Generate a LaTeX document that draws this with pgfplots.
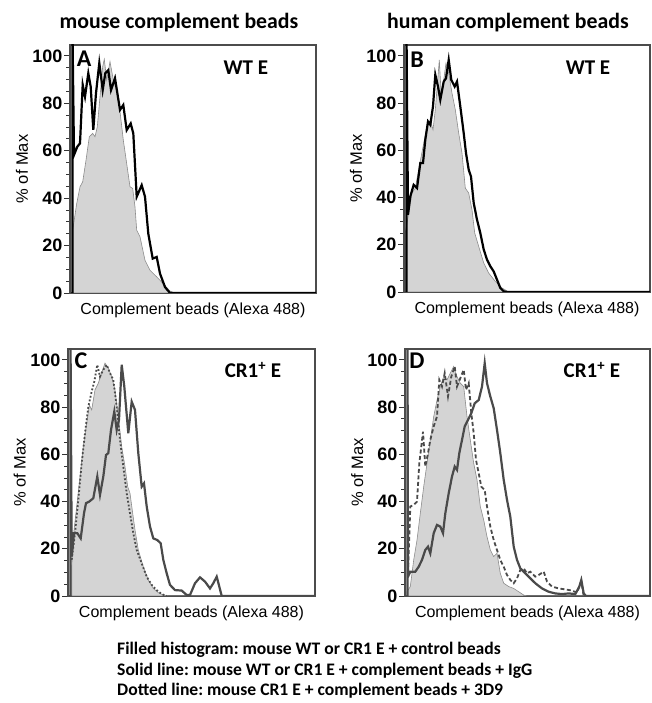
\documentclass[border=0pt]{standalone}
\usepackage{pgfplots}
\pgfplotsset{compat=1.18}
\usepackage{fontspec}
\setmainfont{Carlito}
\newfontfamily\arial{Liberation Sans}
\frenchspacing

\definecolor{fillgray}{HTML}{D4D4D4}
\definecolor{edgegray}{HTML}{8C8C8C}
\definecolor{darkline}{HTML}{4A4A4A}

\pgfplotsset{
  histo/.style={
    scale only axis,
    anchor=south west,
    ymin=0, ymax=104.6,
    ytick={0,20,40,60,80,100},
    minor y tick num=3,
    xtick=\empty,
    ytick pos=left,
    tick align=outside,
    major tick length=6pt,
    minor tick length=4pt,
    every tick/.style={line width=0.8pt, black!80},
    axis line style={draw=black!70, line width=1.2pt},
    /pgf/number format/assume math mode=true,
    yticklabel style={font=\arial\bfseries\fontsize{18}{18}\selectfont, xshift=2pt},
    ylabel={\% of Max},
    ylabel style={font=\arial\fontsize{16.5}{16.5}\selectfont, at={(axis description cs:-0.195,0.5)}, anchor=center},
    xlabel={Complement beads (Alexa 488)},
    xlabel style={font=\arial\fontsize{16}{16}\selectfont, at={(axis description cs:0.5,-0.069)}, anchor=center},
    clip=true,
  },
  ctrl/.style={fill=fillgray, draw=edgegray, line width=0.6pt},
}
\tikzset{
  letter/.style={font=\bfseries\fontsize{24}{24}\selectfont},
  tag/.style={font=\bfseries\fontsize{21}{21}\selectfont},
}

\begin{document}
\begin{tikzpicture}[x=1pt,y=1pt]
\path[use as bounding box] (0,0) rectangle (652,703);

% ---------- A ----------
\begin{axis}[histo, at={(70pt,410pt)}, width=246pt, height=248pt, xmin=0, xmax=246]
\addplot[ctrl] coordinates {
 (2.7,26.5) (6.7,37.7) (10,44.8) (12.7,46.9) (16,56) (19.3,65.9) (22.7,67.3)
 (25,65.9) (27.3,70.1) (30,82.8) (32.7,95.5) (34.3,98.6) (36.7,89.9) (40,97.6)
 (43.3,89.9) (48.3,82.8) (53.3,64.5) (56.7,54.6) (60,44.8) (62.7,44.1) (65,36.3)
 (66.7,26.5) (70,23.7) (75,13.8) (80,9.6) (86.7,6.8) (93.3,3.9) (100,0.8) (105,0)
 (246,0)} \closedcycle;
\addplot[black, line width=2.2pt] coordinates {
 (2.5,0) (2.5,110) (4,58.2) (7.3,61.7) (10,63.1) (12.7,87.8) (15,82.8) (18.3,92.7)
 (20.7,87) (23.3,68.8) (26,84.3) (29.3,97) (32.7,85.6) (35.3,92.7) (38.3,94)
 (41,85.6) (45,90.6) (50,77.2) (53.3,79.3) (56.7,68.7) (60.7,71.5) (63.3,67.3)
 (66.7,40.6) (71.7,45.5) (75,40.6) (78.3,25) (82.7,14.5) (86.7,15.2) (90,8.2)
 (95,2.5) (100,0) (246,0)};
\node[letter] at (axis description cs:0.057,0.944) {A};
\node[tag] at (axis description cs:0.715,0.907) {WT E};
\end{axis}

% ---------- B ----------
\begin{axis}[histo, at={(404pt,411pt)}, width=246pt, height=247pt, xmin=0, xmax=246]
\addplot[ctrl] coordinates {
 (1.3,25) (4.7,33.4) (8,41.9) (11.3,44) (15.3,53.2) (19.7,63) (23,70.1) (26.3,72.9)
 (29,68.7) (31.3,77.2) (34,91.3) (35.3,98.3) (37.3,82.8) (39.7,89.8) (42,96.9)
 (44.7,92.7) (48,84.2) (51.3,77.2) (54.7,67.3) (58,58.8) (61.3,44) (64.7,41.9)
 (68,34.8) (70.7,25) (74.7,19.3) (79.7,12.3) (84.7,8) (91.3,4.5) (98,1.7)
 (104.7,0) (246,0)} \closedcycle;
\addplot[black, line width=2.2pt] coordinates {
 (2.5,0) (2.5,110) (4,32.7) (6.3,40.5) (9.7,45.4) (13,44) (16.3,54.6) (19,54.6)
 (21.3,64.5) (24,72.2) (26.3,70.8) (29,78.6) (31.3,92) (34,87) (36.3,81.4)
 (39.7,89.1) (42,90.5) (44.7,98.3) (47.3,89.8) (50.7,87) (53,89.1) (56.3,78.6)
 (59.7,67.3) (62,58.8) (64.7,51.8) (67,48.9) (69.7,37.7) (73,30.6) (76.3,25)
 (79.7,18) (83,13.7) (86.3,10.9) (89.7,8.7) (93,5.2) (96.3,1.7) (99.7,0.3)
 (103,0) (246,0)};
\node[letter] at (axis description cs:0.053,0.94) {B};
\node[tag] at (axis description cs:0.748,0.907) {WT E};
\end{axis}

% ---------- C ----------
\begin{axis}[histo, at={(68pt,107pt)}, width=247pt, height=247pt, xmin=0, xmax=247]
\addplot[ctrl] coordinates {
 (3.7,12.4) (5.3,25.1) (8.7,37.9) (12,50.6) (15.3,63.3) (18.7,73.2) (21.3,80.9)
 (23.7,78.8) (27,87.3) (30.3,90.1) (33.7,94.4) (37,98.6) (40.3,96.5) (43.7,92.9)
 (47,87.3) (50.3,76) (53.7,63.3) (57,54.8) (59.7,46.3) (62,43.5) (64.7,35)
 (67,28) (70.3,19.5) (75.3,12.4) (80.3,6.8) (85.3,3.2) (90.3,1.4) (95.3,0.4)
 (100.3,0) (247,0)} \closedcycle;
\addplot[darkline, line width=2.2pt] coordinates {
 (2.5,0) (2.5,110) (3.7,16.7) (6,26.6) (9.3,26.6) (12.7,24.4) (16,35) (18,39.3)
 (21.3,40) (25.3,41.4) (29.3,50.6) (32,42.8) (35.3,50.6) (38,59.7) (40.3,60.5)
 (43,70.3) (46.3,78.1) (48.7,70.3) (51,74.6) (53.7,97.9) (56.3,88.7) (60.3,68.9)
 (63.7,82.3) (67,78.8) (70.3,60.5) (73.7,46.3) (76,47.7) (78.7,37.9) (82,29.4)
 (85.3,24.4) (89.3,23.7) (92.7,22.3) (95.3,15.3) (98.7,9.6) (102,4.7) (107,2.5)
 (113.7,2.3) (118.7,0.4) (122,0.4) (127,5.4) (132,7.9) (137,6.1) (142,3.2)
 (145.3,5.4) (148.7,8.2) (151.3,4) (153.7,0) (247,0)};
\addplot[darkline, line width=1.8pt, dotted] coordinates {
 (3.7,15.3) (7,26.6) (10.3,40.7) (13.7,56.2) (17,68.9) (20.3,80.2) (23.7,86.6)
 (26.3,90.8) (29.3,97.9) (32,92.9) (35.3,95.8) (38.7,97.9) (42,94.4) (45.3,91.5)
 (48.7,80.2) (52,66.1) (55.3,54.8) (58.7,43.5) (62,35) (65.3,26.6) (68.7,19.5)
 (73.7,13.8) (78.7,8.2) (83.7,4.7) (88.7,2.5) (93.7,0.8) (98.7,0)};
\node[letter] at (axis description cs:0.053,0.951) {C};
\node[tag] at (axis description cs:0.749,0.915) {CR1\textsuperscript{+} E};
\end{axis}

% ---------- D ----------
\begin{axis}[histo, at={(405pt,107pt)}, width=245pt, height=247pt, xmin=0, xmax=245]
\addplot[ctrl] coordinates {
 (2,1.8) (5.3,4) (8.7,15.3) (12,23.7) (15.3,35) (18.7,46.3) (22,56.2) (25.3,66.1)
 (28.7,76) (32,83) (35.3,88.7) (38.7,92.9) (42,91.5) (45.3,94.4) (48.7,97.2)
 (52,92.9) (55.3,90.1) (58.7,88.7) (62,76) (65.3,66.1) (68.7,56.2) (72,49.2)
 (75.3,37.9) (78.7,32.2) (82,25.1) (85.3,19.5) (88.7,16.7) (92,18.1) (95.3,9.6)
 (98.7,5.4) (103.7,4) (108.7,3.2) (113.7,1.8) (118.7,0.4) (122,0) (245,0)} \closedcycle;
\addplot[darkline, line width=2.2pt] coordinates {
 (2.5,0) (2.5,110) (3,8.2) (5.3,10.3) (10.3,10.3) (13.7,12.4) (17,15.3) (20.3,19.5)
 (23,20.9) (25.3,18.1) (28.7,26.6) (32,30.1) (35.3,29.4) (38,26.6) (40.3,35)
 (43.7,43.5) (47,50.6) (49.7,54.8) (52,53.4) (54.3,60.5) (57,66.1) (59.7,71.8)
 (63,74.6) (66.3,77.4) (69.7,81.6) (73.7,83) (77,88.7) (79.7,98.6) (82,90.1)
 (85.3,84.5) (88.7,79.5) (92,70.3) (95.3,60.5) (98.7,49.2) (102,40.7) (105.3,33.6)
 (108.7,20.9) (112,15.3) (115.3,11.7) (120.3,9.6) (125.3,7.5) (130.3,5.4) (137,3.2)
 (143.7,1.8) (150.3,1.1) (157,0.8) (163.7,1.1) (170.3,0.8) (174.3,4) (176.3,6.8)
 (178.7,1.1) (181,0) (245,0)};
\addplot[darkline, line width=1.8pt, dash pattern=on 4pt off 2.5pt] coordinates {
 (3,9.6) (5.3,37.9) (8.7,38.6) (12,40) (14.3,56.2) (16.3,63.3) (18,69.6) (20.3,54.8)
 (23,60.5) (25.3,66.1) (28.7,71.8) (32,76) (34.3,91.5) (37,88.7) (39.7,94.4) (43,84.5)
 (46.3,92.9) (49.7,97.2) (52,88.7) (55.3,92.2) (58.7,95.8) (61,87.3) (63.7,90.1)
 (66.3,77.4) (68.7,68.9) (71,57.6) (73.7,52) (76.3,46.3) (79.7,44.9) (82,37.9)
 (85.3,29.4) (88.7,23.7) (92,19.5) (95.3,15.3) (98.7,12.4) (102,8.9) (105.3,6.8)
 (108.7,5.4) (112,7.5) (115.3,11) (118.7,11.7) (122,9.6) (125.3,10.3) (130.3,8.2)
 (133.7,8.9) (138.7,10.3) (142,6.1) (147,4) (153.7,3.2) (160.3,2.8) (167,2.3)
 (172,1.4) (174.3,4) (176.3,6.1) (178.7,0)};
\node[letter] at (axis description cs:0.049,0.951) {D};
\node[tag] at (axis description cs:0.763,0.915) {CR1\textsuperscript{+} E};
\end{axis}

% ---------- titles and key ----------
\node[font=\bfseries\fontsize{21.8}{21.8}\selectfont] at (179,680) {mouse complement beads};
\node[font=\bfseries\fontsize{21.8}{21.8}\selectfont] at (508,680) {human complement beads};
\node[font=\bfseries\fontsize{17.6}{17.6}\selectfont, anchor=base west, inner sep=0pt] at (117,48) {Filled histogram: mouse WT or CR1 E + control beads};
\node[font=\bfseries\fontsize{17.6}{17.6}\selectfont, anchor=base west, inner sep=0pt] at (117,27) {Solid line: mouse WT or CR1 E + complement beads + IgG};
\node[font=\bfseries\fontsize{17.6}{17.6}\selectfont, anchor=base west, inner sep=0pt] at (117,7) {Dotted line: mouse CR1 E + complement beads + 3D9};
\end{tikzpicture}
\end{document}
